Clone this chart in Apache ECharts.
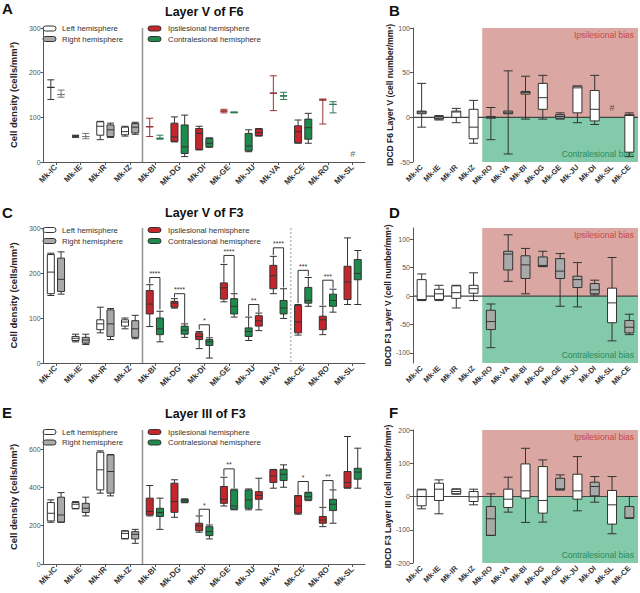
<!DOCTYPE html>
<html><head><meta charset="utf-8">
<script src="https://cdn.jsdelivr.net/npm/echarts@6/dist/echarts.min.js"></script>
<style>html,body{margin:0;padding:0;background:#fff}#c{width:640px;height:593px}</style>
</head><body><div id="c"></div>
<script>
// ---------------- DATA ----------------
const catsL = ['Mk-IC','Mk-IE','Mk-IR','Mk-IZ','Mk-BI','Mk-DG','Mk-DI','Mk-GE','Mk-JU','Mk-VA','Mk-CE','Mk-RO','Mk-SL'];
const catsR = ['Mk-IC','Mk-IE','Mk-IR','Mk-IZ','Mk-RO','Mk-VA','Mk-BI','Mk-DG','Mk-GE','Mk-JU','Mk-DI','Mk-SL','Mk-CE'];

// boxplot values: [min, Q1, median, Q3, max]
const aLeft = [[140,167,167,167,184],[55,58,58,58,60],[50,60,80,90,91],[58,61,68,78,80],[57,79,79,79,98],[45,46,56,87,101],[27,28,64,75,80],[110,114,114,114,118],[23,25,36,64,72],[115,154,154,154,193],[42,43,68,81,94],[85,139,139,139,141],null];
const aRight = [[145,151,151,151,161],[52,57,57,57,64],[55,57,72,83,87],[62,65,78,86,89],[51,53,53,53,60],[12,19,34,83,105],[33,34,42,53,54],[110,111,111,111,112],[58,59,66,74,75],[140,148,148,148,156],[42,51,77,96,109],[110,129,129,129,135],null];
const aMissing = [['Mk-SL', 19]];

const bVals = [[-11,4,6,7,38],[-3,-2,-1,1,2],[-6,0,6,7,10],[-29,-24,-11,9,19],[-25,-1,0,1,11],[-41,4,5,7,52],[-2,26,28,29,46],[-2,9,22,38,47],[-2,-1,1,3,5],[-6,5,33,35,35],[-8,-4,9,30,47],null,[-44,-39,2,3,5]];
const bMissing = [['Mk-SL', 10]];

const cLeft = [[150,154,202,241,244],[47,50,55,59,64],[67,74,87,96,124],[76,82,91,96,100],[81,109,131,161,174],[122,124,133,137,143],[32,52,59,67,70],[136,142,167,178,219],[50,59,70,78,102],[154,165,194,217,237],[62,67,91,128,130],[63,74,96,104,126],[130,141,180,215,278]];
const cRight = [[153,159,186,233,247],[41,44,51,57,64],[52,59,87,118,121],[54,57,76,94,106],[47,63,76,100,115],[57,64,73,82,87],[11,39,47,52,56],[102,109,126,143,154],[72,82,94,105,111],[99,109,122,139,165],[126,133,139,168,190],[113,126,139,153,164],[130,185,199,230,250]];
const cSigCats = ['Mk-BI','Mk-DG','Mk-DI','Mk-GE','Mk-JU','Mk-VA','Mk-CE','Mk-RO'];
const cSigTop = [190,154,85,239,130,256,206,184];
const cSigLeftEnd = [177,146,74,222,104,240,133,128];
const cSigRightEnd = [119,89,58,156,113,168,193,167];
const cSigText = ['****','****','*','****','**','****','***','***'];

const dVals = [[-8,-7,-6,29,39],[-8,-6,4,12,19],[-21,-4,6,18,19],[-8,5,13,19,41],[-91,-59,-45,-25,-14],[26,46,74,79,108],[4,31,55,71,84],[52,52,54,69,79],[-18,31,44,66,75],[-19,15,29,35,59],[2,4,11,22,28],[-79,-47,-12,14,68],[-68,-65,-55,-43,-32]];

const eLeft = [[218,225,265,321,335],[288,290,312,321,326],[370,387,492,584,591],[131,133,160,172,174],[251,256,274,344,410],[244,270,326,422,440],[166,174,199,213,251],[303,317,338,405,453],[283,291,335,387,392],[396,426,460,492,494],[260,265,303,356,358],[195,213,230,248,296],[396,398,426,483,666]];
const eRight = [[218,219,256,349,373],[251,269,291,317,349],[356,370,483,570,572],[108,131,155,169,181],[181,248,269,291,344],[320,322,330,338,340],[131,148,169,195,204],[283,286,303,387,391],[283,338,358,378,448],[401,436,469,495,518],[331,335,352,373,375],[213,279,312,338,387],[396,443,480,500,605]];
const eSigCats = ['Mk-DI','Mk-GE','Mk-CE','Mk-RO'];
const eSigTop = [286,497,431,436];
const eSigLeftEnd = [256,460,362,300];
const eSigRightEnd = [210,396,379,391];
const eSigText = ['*','**','*','**'];

const fVals = [[-37,-28,0,20,22],[-52,-12,22,40,50],[7,8,15,22,23],[-25,-15,-1,15,22],[-117,-117,-67,-30,8],[-47,-33,-8,22,58],[-78,-5,17,98,145],[-77,-50,-12,90,110],[20,20,23,55,65],[-43,-8,17,67,120],[-17,2,30,43,60],[-112,-83,-25,18,60],[-65,-65,-65,-30,0]];

const ticksA = [0,100,200,300], ticksB = [-50,0,50,100], ticksC = [0,100,200,300];
const ticksD = [-100,-50,0,50,100], ticksE = [0,200,400,600], ticksF = [-200,-100,0,100,200];

// ---------------- STYLE ----------------
const FONT = '"Liberation Sans", Arial, Helvetica, sans-serif';
const RED = '#c4262c', GREEN = '#1e8a4c', GRAY = '#a9a9a9', WHITE = '#ffffff';
const PINK = '#dba7a2', MINT = '#82caa9';
const swapped = ['Mk-JU']; // green left, red right
const fillB = ['g','g','w','w','g','g','g','w','g','w','w','w','w'];
const fillD = ['w','w','w','w','g','g','g','g','g','g','g','w','g'];
const fillF = ['w','w','w','w','g','w','w','w','g','w','g','w','g'];

function pairItems(vals, cats, side) {
  return vals.map((v, i) => {
    if (!v) return {value: ['-','-','-','-','-']};
    let fill;
    if (i < 4) fill = side === 0 ? WHITE : GRAY;
    else { const sw = swapped.includes(cats[i]); fill = ((side === 0) !== sw) ? RED : GREEN; }
    let border = '#333';
    if (v[1] === v[3]) { // whisker-only item
      border = fill === RED ? '#9b3434' : fill === GREEN ? '#2f7a55' : (side === 0 ? '#333' : '#777');
    }
    return {value: v, itemStyle: {color: fill, borderColor: border}};
  });
}
function singleItems(vals, fills) {
  return vals.map((v, i) => v ? {value: v, itemStyle: {color: fills[i] === 'g' ? GRAY : WHITE, borderColor: '#333'}} : {value: ['-','-','-','-','-']});
}

const grids = [
  {left: 30, top: 28, width: 335, height: 134},
  {left: 413, top: 28, width: 225, height: 134},
  {left: 30, top: 228, width: 335, height: 135},
  {left: 413, top: 228, width: 225, height: 135},
  {left: 30, top: 430, width: 335, height: 134},
  {left: 413, top: 430, width: 225, height: 133}
];

function xAx(gi, cats, main) {
  return {
    type: 'category', gridIndex: gi, data: cats, boundaryGap: true,
    axisLine: {show: main, onZero: false, lineStyle: {color: '#555', width: 1}},
    axisTick: {show: main, alignWithLabel: true, length: 3, lineStyle: {color: '#555'}},
    axisLabel: {rotate: 45, fontSize: main ? 8 : 7.5, fontWeight: 'bold', color: '#333', margin: 4, interval: 0, fontFamily: FONT},
    splitLine: {show: false}
  };
}
function yAx(gi, min, max, ticks, name, gap, size) {
  return {
    type: 'value', gridIndex: gi, min: min, max: max, splitLine: {show: false},
    axisLine: {show: true, lineStyle: {color: '#555', width: 1}},
    axisTick: {show: true, length: 3, lineStyle: {color: '#555'}, customValues: ticks},
    axisLabel: {customValues: ticks, fontSize: 7, color: '#555', margin: 3, fontFamily: FONT},
    name: name, nameLocation: 'middle', nameGap: gap,
    nameTextStyle: {fontSize: size, fontWeight: 'bold', color: '#222', fontFamily: FONT}
  };
}

function offsets(bw) {
  const avail = bw * 0.8 - 2, gap = avail / 2 * 0.3, boxW = (avail - gap) / 2;
  const offL = boxW / 2 - avail / 2;
  return [offL, offL + gap + boxW];
}

function bracketSeries(gi, cats, tops, lefts, rights, texts) {
  return {
    type: 'custom', xAxisIndex: gi, yAxisIndex: gi, z: 5, silent: true,
    data: cats.map((c, i) => [c, tops[i], lefts[i], rights[i]]),
    encode: {x: 0, y: 1},
    renderItem: function (params, api) {
      const ci = api.value(0);
      const bw = api.size([1, 0])[0];
      const off = offsets(bw);
      const cx = api.coord([ci, api.value(1)])[0];
      const pT = api.coord([ci, api.value(1)])[1];
      const pL = api.coord([ci, api.value(2)])[1];
      const pR = api.coord([ci, api.value(3)])[1];
      const xl = cx + off[0], xr = cx + off[1];
      return {type: 'group', children: [
        {type: 'polyline', shape: {points: [[xl, pL], [xl, pT], [xr, pT], [xr, pR]]}, style: {stroke: '#333', lineWidth: 1, fill: null}},
        {type: 'text', x: (xl + xr) / 2, y: pT - 0.5, style: {text: texts[params.dataIndex], fontSize: 7, fill: '#333', align: 'center', verticalAlign: 'bottom', fontFamily: FONT}}
      ]};
    }
  };
}

function dividerSeries(gi, cats, dashed) {
  return {
    type: 'custom', xAxisIndex: gi, yAxisIndex: gi, z: 1, silent: true,
    data: cats.map(c => [c, 0]),
    encode: {x: 0, y: 1},
    renderItem: function (params, api) {
      const cs = params.coordSys;
      const bw = api.size([1, 0])[0];
      const x = api.coord([api.value(0), 0])[0] - bw / 2;
      const d = dashed[params.dataIndex];
      return {type: 'line', shape: {x1: x, y1: cs.y, x2: x, y2: cs.y + cs.height},
        style: {stroke: d ? '#aaa' : '#999', lineWidth: d ? 1.2 : 1.6, lineDash: d ? [2, 2] : null}};
    }
  };
}

function shadeSeries(gi, firstCat) {
  return {
    type: 'custom', xAxisIndex: gi, yAxisIndex: gi, z: 1, silent: true,
    data: [[firstCat, 0]],
    encode: {x: 0, y: 1},
    renderItem: function (params, api) {
      const cs = params.coordSys;
      const bw = api.size([1, 0])[0];
      const p = api.coord([api.value(0), 0]);
      const x0 = p[0] - bw / 2, y0 = p[1], x1 = cs.x + cs.width;
      return {type: 'group', children: [
        {type: 'rect', shape: {x: x0, y: cs.y, width: x1 - x0, height: y0 - cs.y}, style: {fill: PINK}},
        {type: 'rect', shape: {x: x0, y: y0, width: x1 - x0, height: cs.y + cs.height - y0}, style: {fill: MINT}},
        {type: 'line', shape: {x1: cs.x, y1: y0, x2: x1, y2: y0}, style: {stroke: '#444', lineWidth: 1.2}},
        {type: 'text', x: x1 - 4, y: cs.y + 7, style: {text: 'Ipsilesional bias', fontSize: 8.5, fill: '#c8464a', align: 'right', verticalAlign: 'middle', fontFamily: FONT}},
        {type: 'text', x: x1 - 4, y: cs.y + cs.height - 8, style: {text: 'Contralesional bias', fontSize: 8.5, fill: '#2a8a5c', align: 'right', verticalAlign: 'middle', fontFamily: FONT}}
      ]};
    }
  };
}

function boxSeries(gi, items, w) {
  return {type: 'boxplot', xAxisIndex: gi, yAxisIndex: gi, z: 3, silent: true, boxWidth: [w, w],
    itemStyle: {borderWidth: 1}, emphasis: {disabled: true}, data: items};
}
function hashSeries(gi, pts) {
  return {type: 'scatter', xAxisIndex: gi, yAxisIndex: gi, z: 6, silent: true, symbolSize: 1,
    itemStyle: {color: 'rgba(0,0,0,0)'}, data: pts,
    label: {show: true, formatter: '#', position: 'inside', fontSize: 9, color: '#333', fontFamily: FONT}};
}

function legendItems(y1, y2) {
  const pill = (x, y, fill) => ({type: 'rect', shape: {x: x, y: y - 2.5, width: 13, height: 5, r: 2.5}, style: {fill: fill, stroke: '#333', lineWidth: 1}});
  const txt = (x, y, t) => ({type: 'text', x: x, y: y, style: {text: t, fontSize: 7.8, fill: '#333', verticalAlign: 'middle', fontFamily: FONT}});
  return [pill(43, y1, WHITE), txt(62, y1, 'Left hemisphere'), pill(43, y2, GRAY), txt(62, y2, 'Right hemisphere'),
    pill(148, y1, RED), txt(168, y1, 'Ipsilesional hemisphere'), pill(148, y2, GREEN), txt(168, y2, 'Contralesional hemisphere')];
}

const titleStyle = (size) => ({fontSize: size, fontWeight: 'bold', color: '#111', fontFamily: FONT});
const CD = 'Cell density (cells/mm³)';

const option = {
  animation: false,
  backgroundColor: '#fff',
  title: [
    {text: 'A', left: 2, top: 1, padding: 0, textStyle: titleStyle(15)},
    {text: 'Layer V of F6', left: 165, top: 5, padding: 0, textStyle: titleStyle(12.5)},
    {text: 'B', left: 389, top: 3, padding: 0, textStyle: titleStyle(15)},
    {text: 'C', left: 2, top: 205, padding: 0, textStyle: titleStyle(15)},
    {text: 'Layer V of F3', left: 165, top: 206, padding: 0, textStyle: titleStyle(12.5)},
    {text: 'D', left: 389, top: 205, padding: 0, textStyle: titleStyle(15)},
    {text: 'E', left: 2, top: 405, padding: 0, textStyle: titleStyle(15)},
    {text: 'Layer III of F3', left: 165, top: 407, padding: 0, textStyle: titleStyle(12.5)},
    {text: 'F', left: 389, top: 405, padding: 0, textStyle: titleStyle(15)}
  ],
  grid: grids,
  xAxis: [xAx(0, catsL, true), xAx(1, catsR, false), xAx(2, catsL, true), xAx(3, catsR, false), xAx(4, catsL, true), xAx(5, catsR, false)],
  yAxis: [
    yAx(0, 0, 300, ticksA, CD, 17, 9.5),
    yAx(1, -50, 100, ticksB, 'IDCD F6 Layer V (cell number/mm³)', 17, 8.5),
    yAx(2, 0, 300, ticksC, CD, 18, 9.5),
    yAx(3, -118, 120, ticksD, 'IDCD F3 Layer V (cell number/mm³)', 17, 8.5),
    yAx(4, 0, 700, ticksE, CD, 18, 9.5),
    yAx(5, -200, 200, ticksF, 'IDCD F3 Layer III (cell number/mm³)', 17, 8.5)
  ],
  graphic: [].concat(legendItems(28.5, 39), legendItems(230, 241), legendItems(432, 442.5)),
  series: [
    dividerSeries(0, ['Mk-BI'], [false]),
    boxSeries(0, pairItems(aLeft, catsL, 0), 7),
    boxSeries(0, pairItems(aRight, catsL, 1), 7),
    hashSeries(0, aMissing),

    shadeSeries(1, 'Mk-RO'),
    boxSeries(1, singleItems(bVals, fillB), 9),
    hashSeries(1, bMissing),

    dividerSeries(2, ['Mk-BI', 'Mk-CE'], [false, true]),
    boxSeries(2, pairItems(cLeft, catsL, 0), 7),
    boxSeries(2, pairItems(cRight, catsL, 1), 7),
    bracketSeries(2, cSigCats, cSigTop, cSigLeftEnd, cSigRightEnd, cSigText),

    shadeSeries(3, 'Mk-RO'),
    boxSeries(3, singleItems(dVals, fillD), 9),

    dividerSeries(4, ['Mk-BI'], [false]),
    boxSeries(4, pairItems(eLeft, catsL, 0), 7),
    boxSeries(4, pairItems(eRight, catsL, 1), 7),
    bracketSeries(4, eSigCats, eSigTop, eSigLeftEnd, eSigRightEnd, eSigText),

    shadeSeries(5, 'Mk-RO'),
    boxSeries(5, singleItems(fVals, fillF), 9)
  ]
};

const chart = echarts.init(document.getElementById('c'), null, {renderer: 'svg', width: 640, height: 593});
chart.setOption(option);
</script>
</body></html>
